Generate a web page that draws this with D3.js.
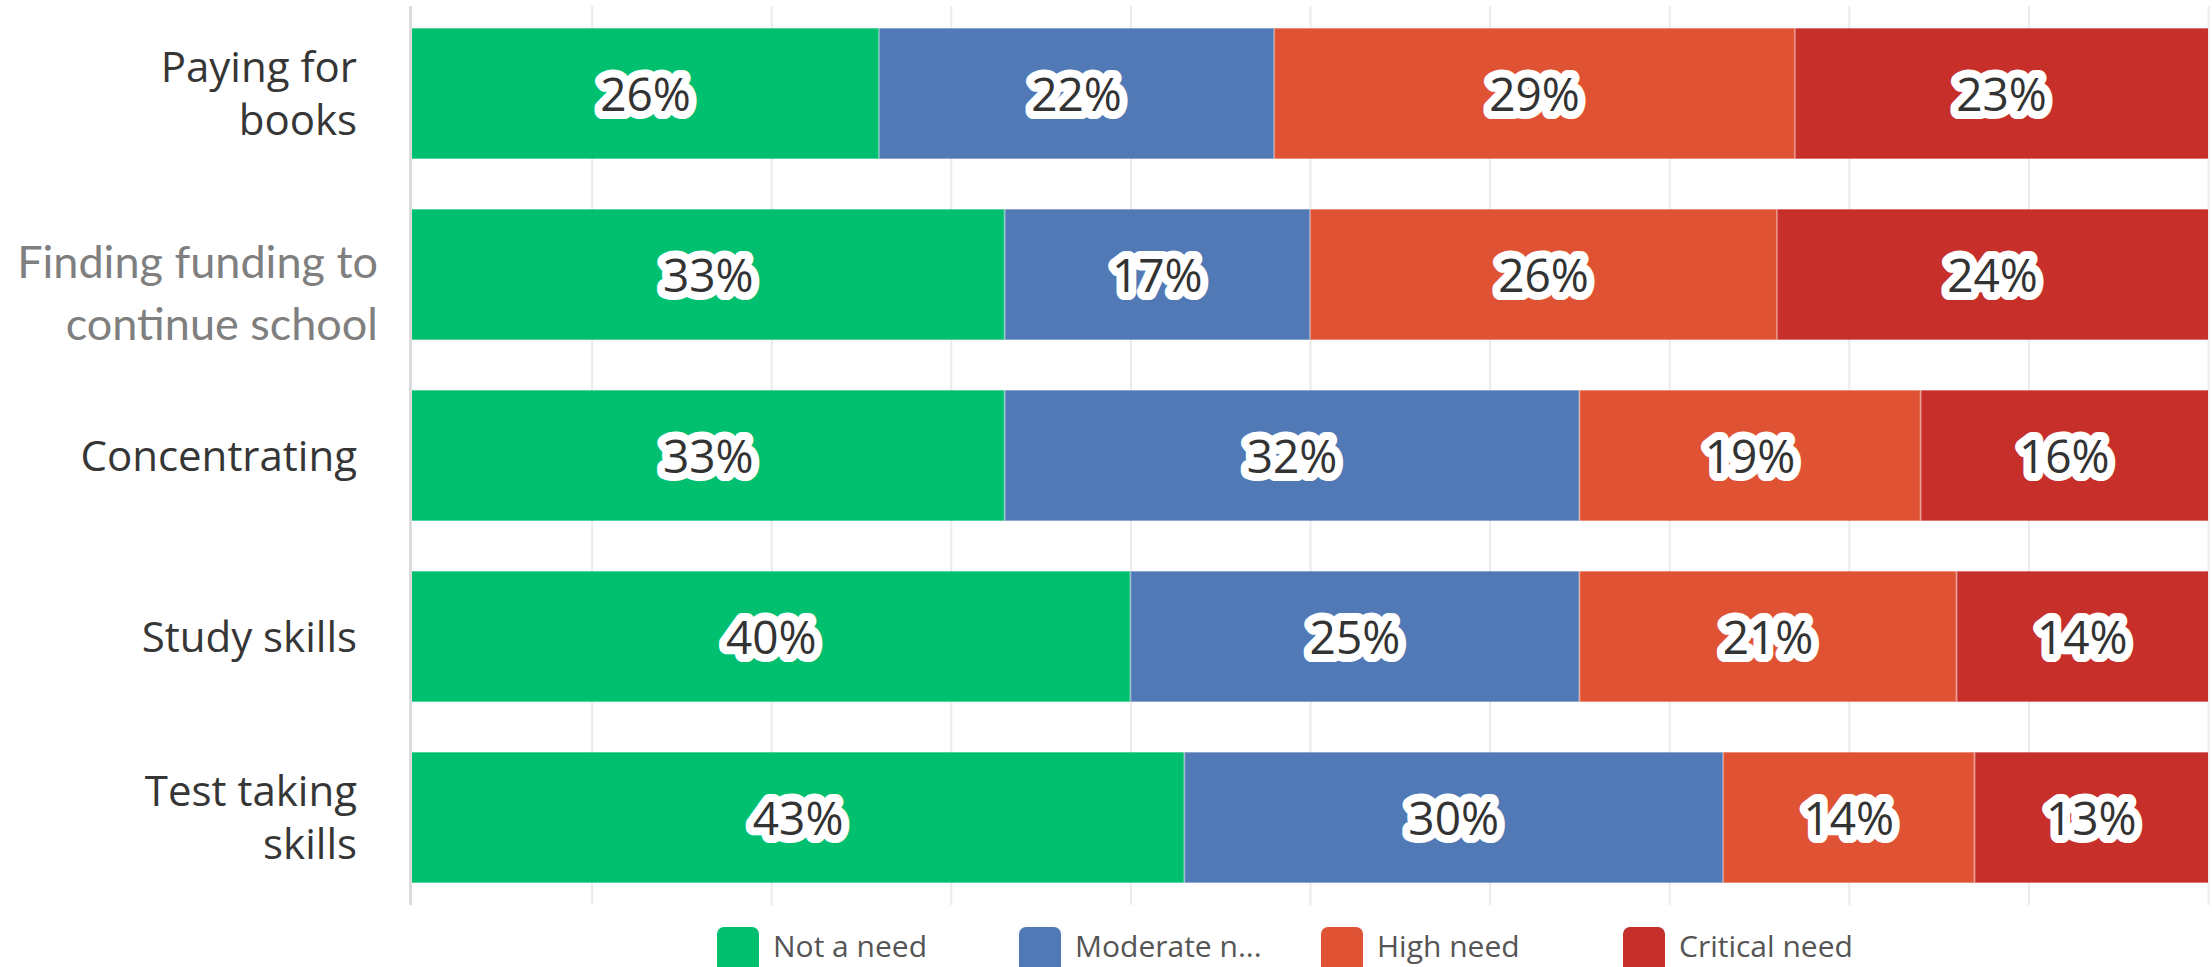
<!DOCTYPE html>
<html>
<head>
<meta charset="utf-8">
<script src="https://cdn.jsdelivr.net/npm/d3@7"></script>
<style>
  body { margin: 0; background: #fff; }
  svg { display: block; }
</style>
</head>
<body>
<div id="chart"></div>
<script>
const categories = ['Paying for books', 'Finding funding to continue school', 'Concentrating', 'Study skills', 'Test taking skills'];
const categoryLines = [['Paying for', 'books'], ['Finding funding to', 'continue school'], ['Concentrating'], ['Study skills'], ['Test taking', 'skills']];
const seriesNames = ['Not a need', 'Moderate need', 'High need', 'Critical need'];
const legendLabels = ['Not a need', 'Moderate n...', 'High need', 'Critical need'];
const notANeed = [26, 33, 33, 40, 43];
const moderateNeed = [22, 17, 32, 25, 30];
const highNeed = [29, 26, 19, 21, 14];
const criticalNeed = [23, 24, 16, 14, 13];
const xTicks = [0, 10, 20, 30, 40, 50, 60, 70, 80, 90, 100];
const colors = ['#00bf6f', '#5079b5', '#df5334', '#c72f2a'];

const width = 2212;
const height = 967;
const margin = { top: 3, right: 4, bottom: 59, left: 412 };

const rows = categories.map((c, i) => ({
    category: c,
    'Not a need': notANeed[i],
    'Moderate need': moderateNeed[i],
    'High need': highNeed[i],
    'Critical need': criticalNeed[i]
}));

const stacked = d3.stack().keys(seriesNames)(rows);

const svg = d3.select('#chart')
    .append('svg')
    .attr('width', width)
    .attr('height', height);

const x = d3.scaleLinear()
    .domain([0, 100])
    .range([margin.left, width - margin.right]);

const y = d3.scaleBand()
    .domain(categories)
    .range([margin.top, height - margin.bottom])
    .paddingInner(0.28)
    .paddingOuter(0.14);

// gridlines
const gridTop = 6;
const gridBottom = 905;
const grid = svg.append('g')
    .attr('transform', 'translate(0,' + gridBottom + ')')
    .call(d3.axisBottom(x).tickValues(xTicks).tickSize(-(gridBottom - gridTop)).tickFormat(''));
grid.select('.domain').remove();
grid.selectAll('.tick line')
    .attr('stroke', '#ebebeb')
    .attr('stroke-width', 2);
grid.selectAll('.tick').filter(d => d === 0).select('line')
    .attr('stroke', '#dcdcdc')
    .attr('stroke-width', 3)
    .attr('transform', 'translate(-2,0)');

// bars
const layers = svg.append('g')
    .selectAll('g')
    .data(stacked)
    .join('g')
    .attr('fill', (d, i) => colors[i]);

layers.selectAll('rect')
    .data(d => d)
    .join('rect')
    .attr('x', d => x(d[0]))
    .attr('y', d => y(d.data.category))
    .attr('width', d => x(d[1]) - x(d[0]))
    .attr('height', y.bandwidth());

// faint separators between segments
layers.selectAll('line.sep')
    .data(d => d.filter(s => s[0] > 0))
    .join('line')
    .attr('class', 'sep')
    .attr('x1', d => x(d[0]))
    .attr('x2', d => x(d[0]))
    .attr('y1', d => y(d.data.category))
    .attr('y2', d => y(d.data.category) + y.bandwidth())
    .attr('stroke', 'rgba(255,255,255,0.35)')
    .attr('stroke-width', 2);

// value labels
layers.selectAll('text')
    .data(d => d)
    .join('text')
    .attr('x', d => (x(d[0]) + x(d[1])) / 2)
    .attr('y', d => y(d.data.category) + y.bandwidth() / 2 + 17)
    .attr('text-anchor', 'middle')
    .attr('font-family', '"Open Sans", sans-serif')
    .attr('font-size', 46)
    .attr('fill', '#333')
    .attr('stroke', '#fff')
    .attr('stroke-width', 16)
    .attr('stroke-linejoin', 'round')
    .attr('paint-order', 'stroke')
    .text(d => (d[1] - d[0]) + '%');

// category labels
const labels = svg.append('g');
categories.forEach((c, i) => {
    const lines = categoryLines[i];
    const cy = y(c) + y.bandwidth() / 2;
    const special = i === 1;
    const t = labels.append('text')
        .attr('text-anchor', 'end')
        .attr('font-family', special ? 'Lato, sans-serif' : '"Open Sans", sans-serif')
        .attr('font-size', special ? 45 : 42)
        .attr('fill', special ? '#7f7f7f' : '#363636');
    const lh = special ? 62 : 53;
    const first = special ? cy + 3 : cy + 15 - (lines.length - 1) * lh / 2;
    lines.forEach((ln, j) => {
        t.append('tspan')
            .attr('x', special ? 378 : 357)
            .attr('y', first + j * lh)
            .text(ln);
    });
});

// legend
const legend = svg.append('g')
    .selectAll('g')
    .data(legendLabels)
    .join('g')
    .attr('transform', (d, i) => 'translate(' + (717 + i * 302) + ',927)');

legend.append('rect')
    .attr('width', 42)
    .attr('height', 46)
    .attr('rx', 7)
    .attr('fill', (d, i) => colors[i]);

legend.append('text')
    .attr('x', 56)
    .attr('y', 30)
    .attr('font-family', '"Open Sans", sans-serif')
    .attr('font-size', 30)
    .attr('fill', '#555')
    .text(d => d);
</script>
</body>
</html>
